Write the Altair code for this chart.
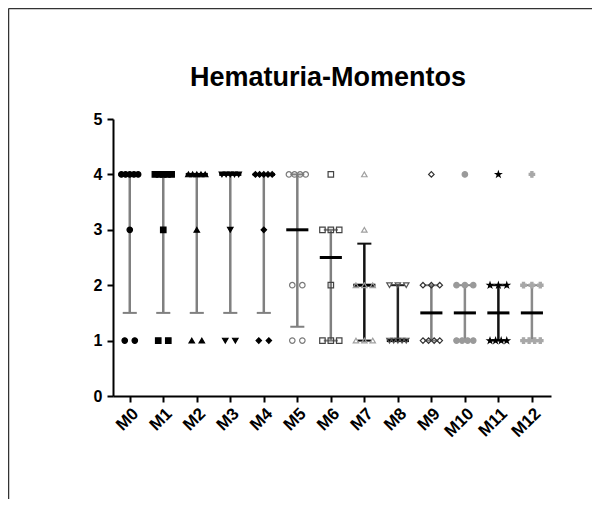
import altair as alt
import pandas as pd

groups = ["M0", "M1", "M2", "M3", "M4", "M5", "M6", "M7", "M8", "M9", "M10", "M11", "M12"]
title_text = ["Hematuria-Momentos"]

m0 = [4, 4, 4, 4, 4, 3, 1, 1]
m1 = [4, 4, 4, 4, 4, 3, 1, 1]
m2 = [4, 4, 4, 4, 4, 3, 1, 1]
m3 = [4, 4, 4, 4, 4, 3, 1, 1]
m4 = [4, 4, 4, 4, 4, 3, 1, 1]
m5 = [4, 4, 4, 4, 2, 2, 1, 1]
m6 = [4, 3, 3, 3, 2, 1, 1, 1]
m7 = [4, 3, 2, 2, 2, 1, 1, 1]
m8 = [2, 2, 2, 1, 1, 1, 1, 1]
m9 = [4, 2, 2, 2, 1, 1, 1, 1]
m10 = [4, 2, 2, 2, 1, 1, 1, 1]
m11 = [4, 2, 2, 2, 1, 1, 1, 1]
m12 = [4, 2, 2, 2, 1, 1, 1, 1]
series = [m0, m1, m2, m3, m4, m5, m6, m7, m8, m9, m10, m11, m12]

medians = [4, 4, 4, 4, 4, 3, 2.5, 2, 1, 1.5, 1.5, 1.5, 1.5]
q1s = [1.5, 1.5, 1.5, 1.5, 1.5, 1.25, 1, 1, 1, 1, 1, 1, 1]
q3s = [4, 4, 4, 4, 4, 4, 3, 2.75, 2, 2, 2, 2, 2]

star = "M0,-1L0.2245,-0.309L0.951,-0.309L0.363,0.118L0.588,0.809L0,0.382L-0.588,0.809L-0.363,0.118L-0.951,-0.309L-0.2245,-0.309Z"
shapes = ["circle", "square", "triangle-up", "triangle-down", "diamond", "circle", "square",
          "triangle-up", "triangle-down", "diamond", "circle", star, "cross"]
fills = ["black", "black", "black", "black", "black", "transparent", "transparent",
         "transparent", "transparent", "transparent", "#9a9a9a", "black", "#a8a8a8"]
strokes = ["black", "black", "black", "black", "black", "#7a7a7a", "#444444",
           "#a0a0a0", "#555555", "#333333", "#9a9a9a", "black", "#a8a8a8"]
bar_colors = ["#808080", "#808080", "#808080", "#808080", "#808080", "#808080", "#808080",
              "#111111", "#222222", "#808080", "#8a8a8a", "#111111", "#8a8a8a"]

# dodge points that share a value side by side
rows = []
for i, vals in enumerate(series):
    for v in sorted(set(vals)):
        k = vals.count(v)
        step = 0 if k == 1 else (0.3 if k == 2 else 0.5 / (k - 1))
        for j in range(k):
            rows.append({"i": i, "g": groups[i], "value": v,
                         "xo": i + (j - (k - 1) / 2) * step,
                         "shape": shapes[i], "fill": fills[i], "stroke": strokes[i]})
pts = pd.DataFrame(rows)

stats = pd.DataFrame({"i": list(range(len(groups))), "g": groups, "median": medians,
                      "q1": q1s, "q3": q3s, "bar": bar_colors})

label_expr = "[" + ",".join("'%s'" % g for g in groups) + "][datum.value]"
xscale = alt.Scale(domain=[-0.5, 12.57], nice=False, zero=False)
xaxis = alt.Axis(values=list(range(len(groups))), labelExpr=label_expr, labelAngle=-45,
                 title=None, grid=False, labelFontSize=17, labelPadding=3,
                 labelOverlap=False)
yscale = alt.Scale(domain=[0, 5], nice=False)
yaxis = alt.Axis(values=[0, 1, 2, 3, 4, 5], title=None, grid=False, format="d",
                 labelFontSize=16, labelPadding=5)

base = alt.Chart(stats)

bars = base.mark_rule(strokeWidth=2.5).encode(
    x=alt.X("i:Q", scale=xscale, axis=xaxis),
    y=alt.Y("q1:Q", scale=yscale, axis=yaxis),
    y2="q3:Q",
    color=alt.Color("bar:N", scale=None),
)

caps = base.transform_fold(["q1", "q3"], as_=["k", "v"]).transform_calculate(
    xl="datum.i - 0.21", xr="datum.i + 0.21"
).mark_rule(strokeWidth=2).encode(
    x=alt.X("xl:Q", scale=xscale, axis=xaxis),
    x2="xr:Q",
    y=alt.Y("v:Q", scale=yscale, axis=yaxis),
    color=alt.Color("bar:N", scale=None),
)

med = base.transform_calculate(
    xl="datum.i - 0.33", xr="datum.i + 0.33"
).mark_rule(strokeWidth=3, color="black").encode(
    x=alt.X("xl:Q", scale=xscale, axis=xaxis),
    x2="xr:Q",
    y=alt.Y("median:Q", scale=yscale, axis=yaxis),
)

points = alt.Chart(pts).mark_point(opacity=1, strokeWidth=1.2, size=30).encode(
    x=alt.X("xo:Q", scale=xscale, axis=xaxis),
    y=alt.Y("value:Q", scale=yscale, axis=yaxis),
    shape=alt.Shape("shape:N", scale=None),
    fill=alt.Fill("fill:N", scale=None),
    stroke=alt.Stroke("stroke:N", scale=None),
)

title = alt.Chart(pd.DataFrame({"t": title_text})).mark_text(
    font="Liberation Sans", fontSize=27, fontWeight="bold", color="black",
    align="center", baseline="alphabetic"
).encode(x=alt.value(215), y=alt.value(-33), text="t:N")

frame_df = pd.DataFrame({"d": [0]})
frame_left = alt.Chart(frame_df).mark_rule(color="#333333", strokeWidth=1.5).encode(
    x=alt.value(-104.5), y=alt.value(-110.5), y2=alt.value(380))
frame_top = alt.Chart(frame_df).mark_rule(color="#333333", strokeWidth=1.5).encode(
    x=alt.value(-104.5), x2=alt.value(479), y=alt.value(-110.5))

chart = alt.layer(bars, caps, med, points, title, frame_left, frame_top).properties(
    width=438, height=277,
    padding={"left": 105, "top": 111, "right": 41, "bottom": 103},
    autosize="none",
).configure_view(stroke=None).configure_axis(
    domainColor="black", domainWidth=2, tickColor="black", tickWidth=2, tickSize=6,
    labelFont="Liberation Sans", labelFontWeight="bold",
    labelColor="black",
)

chart.save("out.html", embed_options={"renderer": "svg", "actions": False})
